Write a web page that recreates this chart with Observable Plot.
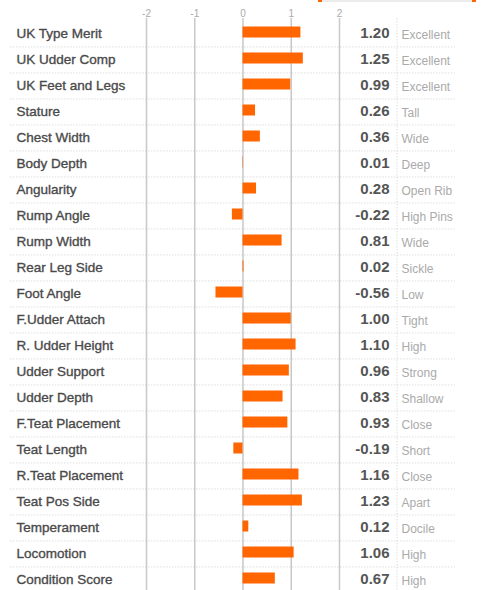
<!DOCTYPE html>
<html>
<head>
<meta charset="utf-8">
<script src="https://cdn.jsdelivr.net/npm/d3@7"></script>
<script src="https://cdn.jsdelivr.net/npm/@observablehq/plot@0.6"></script>
<style>
  html, body { margin: 0; padding: 0; background: #fff; }
  #wrap { position: relative; width: 488px; height: 590px; overflow: hidden; }
  #slider { position: absolute; left: 318px; top: 0; width: 158px; height: 2px; background: #ececec; }
  #slider .end { position: absolute; top: 0; width: 4px; height: 2px; background: #ff6600; }
  svg { display: block; }
</style>
</head>
<body>
<div id="wrap"><div id="slider"><div class="end" style="left:0"></div><div class="end" style="right:0"></div></div></div>
<script>
const traits = ["UK Type Merit","UK Udder Comp","UK Feet and Legs","Stature","Chest Width","Body Depth","Angularity","Rump Angle","Rump Width","Rear Leg Side","Foot Angle","F.Udder Attach","R. Udder Height","Udder Support","Udder Depth","F.Teat Placement","Teat Length","R.Teat Placement","Teat Pos Side","Temperament","Locomotion","Condition Score"];
const scores = [1.20,1.25,0.99,0.26,0.36,0.01,0.28,-0.22,0.81,0.02,-0.56,1.00,1.10,0.96,0.83,0.93,-0.19,1.16,1.23,0.12,1.06,0.67];
const descriptors = ["Excellent","Excellent","Excellent","Tall","Wide","Deep","Open Rib","High Pins","Wide","Sickle","Low","Tight","High","Strong","Shallow","Close","Short","Close","Apart","Docile","High","High"];
const xTicks = [-2,-1,0,1,2];

const rows = traits.map((t, i) => ({trait: t, score: scores[i], desc: descriptors[i]}));
const font = "'Liberation Sans', Arial, sans-serif";
const step = (592.6 - 17.4) / traits.length;

const chart = Plot.plot({
  width: 488,
  height: 590,
  marginLeft: 10,
  marginRight: 33,
  marginTop: 18,
  marginBottom: 0,
  style: {fontFamily: font, background: "transparent", overflow: "visible"},
  x: {domain: [-2, 2], range: [146, 339]},
  y: {domain: traits, range: [17.4, 592.6], padding: 0, axis: null},
  marks: [
    Plot.ruleY(traits.slice(1), {y: d => d, dy: -step / 2 + 1.5, stroke: "#dedede", strokeWidth: 1, strokeDasharray: "1.5,1.5"}),
    Plot.ruleX(xTicks, {stroke: "#c8c8c8", strokeWidth: 1.5}),
    Plot.ruleX([2], {dx: 57.5, stroke: "#dedede", strokeWidth: 1, strokeDasharray: "1.5,1.5"}),
    Plot.barX(rows, {x: "score", y: "trait", fill: "#ff6600", insetTop: 7.5, insetBottom: 7.5}),
    Plot.axisX(xTicks, {anchor: "top", tickSize: 0, tickPadding: 2, fill: "#aaaaaa", fontSize: 10, tickFormat: d => String(d), label: null}),
    Plot.text(rows, {y: "trait", text: "trait", frameAnchor: "left", dx: 6, dy: 1, textAnchor: "start", fill: "#4a4a4a", stroke: "#4a4a4a", strokeWidth: 0.35, fontSize: 13.5}),
    Plot.text(rows, {y: "trait", text: d => d.score.toFixed(2), frameAnchor: "right", dx: -66, dy: 1, textAnchor: "end", fill: "#555555", fontSize: 15, fontWeight: "bold"}),
    Plot.text(rows, {y: "trait", text: "desc", frameAnchor: "right", dx: -54, dy: 3, textAnchor: "start", fill: "#aaaaaa", fontSize: 12})
  ]
});
document.getElementById("wrap").appendChild(chart);
</script>
</body>
</html>
